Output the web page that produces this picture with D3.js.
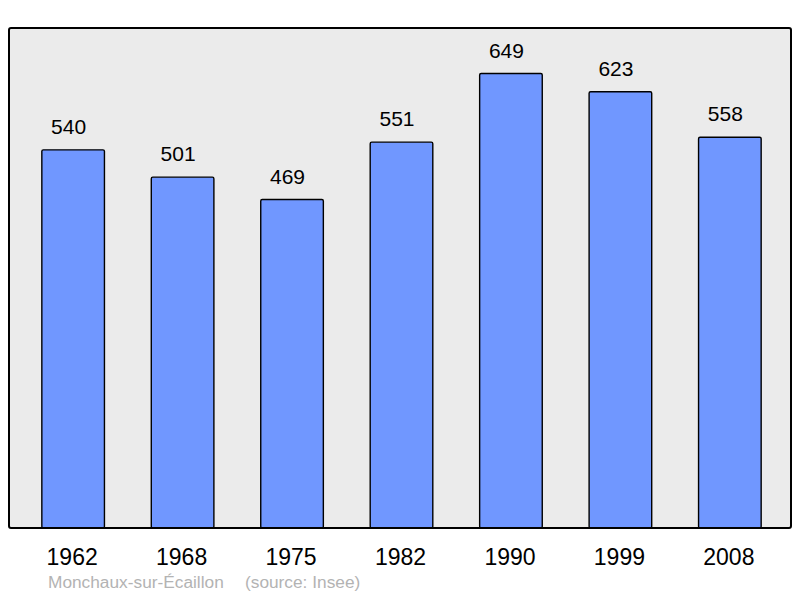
<!DOCTYPE html>
<html>
<head>
<meta charset="utf-8">
<script src="https://cdn.jsdelivr.net/npm/d3@7"></script>
<style>
  html, body { margin: 0; padding: 0; background: #ffffff; }
  svg { display: block; }
</style>
</head>
<body>
<svg id="chart" width="800" height="598"></svg>
<script>
const years = ["1962", "1968", "1975", "1982", "1990", "1999", "2008"];
const population = [540, 501, 469, 551, 649, 623, 558];
const placeName = "Monchaux-sur-Écaillon";
const sourceText = "(source: Insee)";

const svg = d3.select("#chart");
const frame = { left: 9, top: 28, right: 791, bottom: 528 };

const x = d3.scaleBand()
  .domain(years)
  .range([9, 794])
  .paddingInner(0.428)
  .paddingOuter(0.3);

const y = d3.scaleLinear()
  .domain([0, 714])
  .range([frame.bottom, frame.top]);

// plot background
svg.append("rect")
  .attr("x", frame.left)
  .attr("y", frame.top)
  .attr("width", frame.right - frame.left)
  .attr("height", frame.bottom - frame.top)
  .attr("rx", 2).attr("ry", 2)
  .attr("fill", "#ebebeb");

const data = years.map((yr, i) => ({ year: yr, value: population[i] }));

svg.selectAll("rect.bar")
  .data(data)
  .enter().append("rect")
  .attr("class", "bar")
  .attr("x", d => x(d.year))
  .attr("y", d => y(d.value))
  .attr("width", x.bandwidth())
  .attr("height", d => y(0) - y(d.value))
  .attr("rx", 1.5).attr("ry", 1.5)
  .attr("fill", "#7097ff")
  .attr("stroke", "#000")
  .attr("stroke-width", 1.4);

svg.selectAll("text.val")
  .data(data)
  .enter().append("text")
  .attr("class", "val")
  .attr("x", d => x(d.year) + x.bandwidth() / 2 - 4.5)
  .attr("y", d => y(d.value) - 16)
  .attr("text-anchor", "middle")
  .attr("font-family", "'Liberation Sans', Arial, sans-serif")
  .attr("font-size", 21)
  .attr("fill", "#000")
  .text(d => d.value);

// frame border on top
svg.append("rect")
  .attr("x", frame.left)
  .attr("y", frame.top)
  .attr("width", frame.right - frame.left)
  .attr("height", frame.bottom - frame.top)
  .attr("rx", 2).attr("ry", 2)
  .attr("fill", "none")
  .attr("stroke", "#000")
  .attr("stroke-width", 2);

// x axis labels
const xAxis = d3.axisBottom(x).tickSize(0).tickPadding(0);
const gx = svg.append("g")
  .attr("transform", `translate(-1, 565)`)
  .call(xAxis);
gx.select(".domain").remove();
gx.selectAll("text")
  .attr("dy", 0)
  .attr("y", 0)
  .attr("font-family", "'Liberation Sans', Arial, sans-serif")
  .attr("font-size", 23)
  .attr("fill", "#000");

svg.append("text")
  .attr("x", 48).attr("y", 588)
  .attr("font-family", "'Liberation Sans', Arial, sans-serif")
  .attr("font-size", 17.3)
  .attr("fill", "#b3b3b3")
  .text(placeName);
svg.append("text")
  .attr("x", 245).attr("y", 588)
  .attr("font-family", "'Liberation Sans', Arial, sans-serif")
  .attr("font-size", 17.3)
  .attr("fill", "#b3b3b3")
  .text(sourceText);
</script>
</body>
</html>
